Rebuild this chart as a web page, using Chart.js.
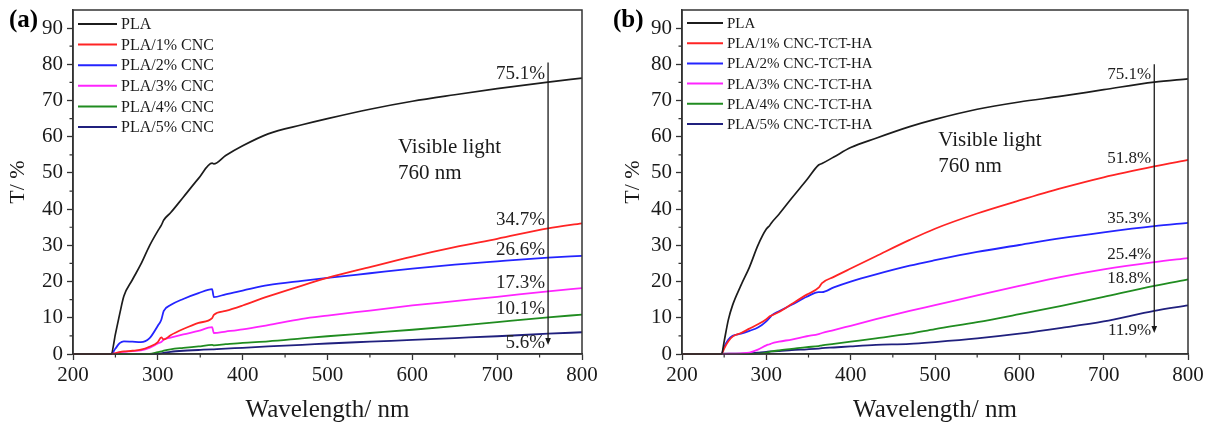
<!DOCTYPE html>
<html>
<head>
<meta charset="utf-8">
<script src="https://cdn.jsdelivr.net/npm/chart.js@4.4.1/dist/chart.umd.min.js"></script>
<style>
  html, body { margin: 0; padding: 0; background: #fff; }
  .panel { position: absolute; top: 0; width: 608px; height: 426px; }
  #panelA { left: 0; }
  #panelB { left: 608px; }
</style>
</head>
<body>
<div class="panel" id="panelA"><canvas id="chartA" width="608" height="426"></canvas></div>
<div class="panel" id="panelB"><canvas id="chartB" width="608" height="426"></canvas></div>
<script>
// transmittance spectra, (a) plain CNC and (b) CNC-TCT-HA fillers
const X_TICKS = [200, 300, 400, 500, 600, 700, 800];
const Y_TICKS = [0, 10, 20, 30, 40, 50, 60, 70, 80, 90];

const WL_A = [200, 245, 250, 255, 260, 270, 280, 290, 300, 304, 307, 315, 330, 348, 364, 366, 380, 400, 430, 470, 500, 550, 600, 650, 700, 760, 800];
const PLA_A  = [0, 0, 5.5, 11, 16, 20.5, 24.8, 29.8, 34, 35.5, 37, 39, 43.3, 48.5, 52.7, 52.5, 54.8, 57.5, 60.8, 63.3, 65, 67.6, 69.8, 71.6, 73.3, 75.1, 76.2];
const CNC1_A = [0, 0, 0.2, 0.5, 0.7, 0.9, 1.2, 2.0, 3.3, 4.6, 4.0, 5.2, 6.9, 8.6, 9.9, 10.8, 11.9, 13.4, 15.9, 18.9, 21.0, 24.0, 26.9, 29.5, 31.8, 34.7, 36.1];
const CNC2_A = [0, 0, 1.5, 3.0, 3.5, 3.4, 3.3, 4.3, 7.8, 9.4, 11.9, 13.5, 15.2, 16.8, 17.9, 15.7, 16.5, 17.5, 19.0, 20.2, 21.0, 22.3, 23.6, 24.7, 25.6, 26.6, 27.1];
const CNC3_A = [0, 0, 0.2, 0.5, 0.6, 0.8, 1.0, 1.7, 2.9, 3.3, 4.0, 4.5, 5.4, 6.4, 7.4, 5.8, 6.2, 6.8, 8.0, 9.7, 10.6, 12.0, 13.4, 14.6, 15.8, 17.3, 18.2];
const CNC4_A = [0, 0, 0, 0, 0, 0, 0, 0, 0.5, 0.7, 0.9, 1.3, 1.7, 2.1, 2.5, 2.4, 2.7, 3.1, 3.5, 4.3, 4.9, 5.8, 6.7, 7.7, 8.8, 10.1, 10.9];
const CNC5_A = [0, 0, 0, 0, 0, 0, 0, 0, 0.1, 0.2, 0.3, 0.6, 0.9, 1.1, 1.3, 1.3, 1.5, 1.7, 2.1, 2.5, 2.9, 3.4, 3.9, 4.4, 4.9, 5.6, 6.0];
const NAMES_A = ['PLA', 'PLA/1% CNC', 'PLA/2% CNC', 'PLA/3% CNC', 'PLA/4% CNC', 'PLA/5% CNC'];
const AT760_A = [75.1, 34.7, 26.6, 17.3, 10.1, 5.6];

const WL_B = [200, 247, 250, 255, 260, 270, 280, 290, 300, 304, 306, 315, 330, 348, 362, 366, 380, 400, 430, 470, 500, 550, 600, 650, 700, 760, 800];
const PLA_B = [0, 0, 3.5, 9.5, 13.5, 19, 24, 30, 34.5, 35.5, 36.2, 38.6, 43, 48.1, 52.2, 52.6, 54.4, 57, 59.6, 62.8, 64.8, 67.6, 69.6, 71.2, 73, 75.1, 76.0];
const HA1_B = [0, 0, 1.5, 3.5, 4.8, 5.8, 7.0, 8.2, 9.6, 10.4, 10.6, 11.6, 13.8, 16.4, 18.3, 19.6, 21.3, 23.6, 27.0, 31.5, 34.6, 38.8, 42.4, 45.8, 48.8, 51.8, 53.6];
const HA2_B = [0, 0, 2.0, 4.0, 5.0, 5.6, 6.4, 7.3, 9.0, 10.0, 10.6, 11.8, 13.6, 15.8, 17.1, 17.1, 18.4, 20.0, 22.0, 24.4, 25.9, 28.2, 30.1, 32.0, 33.6, 35.3, 36.2];
const HA3_B = [0, 0, 0, 0.1, 0.1, 0.2, 0.4, 1.2, 2.4, 2.7, 2.9, 3.4, 4.0, 4.9, 5.5, 5.8, 6.6, 7.8, 9.6, 11.9, 13.5, 16.2, 18.8, 21.3, 23.4, 25.4, 26.5];
const HA4_B = [0, 0, 0, 0, 0, 0, 0, 0.1, 0.4, 0.6, 0.7, 1.0, 1.4, 1.9, 2.2, 2.4, 2.8, 3.4, 4.3, 5.6, 6.9, 8.8, 11.0, 13.3, 15.8, 18.8, 20.6];
const HA5_B = [0, 0, 0.1, 0.1, 0.1, 0.1, 0.2, 0.4, 0.6, 0.7, 0.7, 0.8, 1.1, 1.3, 1.5, 1.6, 1.8, 2.1, 2.5, 2.8, 3.3, 4.3, 5.6, 7.2, 9.0, 11.9, 13.4];
const NAMES_B = ['PLA', 'PLA/1% CNC-TCT-HA', 'PLA/2% CNC-TCT-HA', 'PLA/3% CNC-TCT-HA', 'PLA/4% CNC-TCT-HA', 'PLA/5% CNC-TCT-HA'];
const AT760_B = [75.1, 51.8, 35.3, 25.4, 18.8, 11.9];

const COLORS = ['#1c1c1c', '#ff2424', '#2424ff', '#ff24ff', '#208c20', '#20207e'];
const SERIF = '"Liberation Serif", "Times New Roman", serif';
const INK = '#1a1a1a';
const AXIS = '#333';

// frame, minor ticks, legend, 760 nm arrow and its labels
const decor = {
  id: 'decor',
  afterDatasetsDraw(chart, args, o) {
    const { ctx, chartArea: a, scales: { x, y } } = chart;
    ctx.save();

    // box around the plot
    ctx.strokeStyle = AXIS;
    ctx.lineWidth = 1.5;
    ctx.strokeRect(a.left, a.top, a.right - a.left, a.bottom - a.top);

    // minor ticks
    ctx.lineWidth = 1.2;
    ctx.beginPath();
    for (let v = 250; v < 800; v += 100) {
      const px = x.getPixelForValue(v);
      ctx.moveTo(px, a.bottom); ctx.lineTo(px, a.bottom + 3.5);
    }
    for (let v = 5; v < 95; v += 10) {
      const py = y.getPixelForValue(v);
      ctx.moveTo(a.left, py); ctx.lineTo(a.left - 3.5, py);
    }
    ctx.stroke();

    // legend
    ctx.font = o.legendFont + 'px ' + SERIF;
    ctx.textAlign = 'left';
    ctx.textBaseline = 'middle';
    chart.data.datasets.forEach((ds, i) => {
      const ly = o.legendTop + i * o.legendStep;
      ctx.strokeStyle = ds.borderColor;
      ctx.lineWidth = 2;
      ctx.beginPath();
      ctx.moveTo(o.legendX, ly); ctx.lineTo(o.legendX + o.legendLine, ly);
      ctx.stroke();
      ctx.fillStyle = INK;
      ctx.fillText(ds.label, o.legendX + o.legendLine + 4, ly + 1);
    });

    // arrow at 760 nm
    const ax = x.getPixelForValue(760);
    const yTop = y.getPixelForValue(o.arrowFrom);
    const yTip = y.getPixelForValue(o.arrowTo);
    ctx.strokeStyle = INK;
    ctx.fillStyle = INK;
    ctx.lineWidth = 1.3;
    ctx.beginPath();
    ctx.moveTo(ax, yTop); ctx.lineTo(ax, yTip - 6);
    ctx.stroke();
    ctx.beginPath();
    ctx.moveTo(ax - 2.8, yTip - 7); ctx.lineTo(ax + 2.8, yTip - 7); ctx.lineTo(ax, yTip);
    ctx.closePath();
    ctx.fill();

    // values read at 760 nm
    ctx.font = o.markFont + 'px ' + SERIF;
    ctx.textAlign = 'right';
    ctx.fillStyle = '#222';
    o.values.forEach((v, i) => {
      const text = v.toFixed(1) + '%';
      if (i === o.values.length - 1) {
        ctx.textBaseline = 'middle';
        ctx.fillText(text, ax - 3, yTip - 2);
      } else {
        ctx.textBaseline = 'alphabetic';
        ctx.fillText(text, ax - 3, y.getPixelForValue(v) - 3);
      }
    });

    // visible light note
    ctx.font = '21px ' + SERIF;
    ctx.textAlign = 'left';
    ctx.textBaseline = 'middle';
    ctx.fillStyle = INK;
    const nx = x.getPixelForValue(o.noteAt[0]);
    const ny = y.getPixelForValue(o.noteAt[1]);
    ctx.fillText('Visible light', nx, ny);
    ctx.fillText('760 nm', nx, ny + 26);

    // panel letter
    ctx.font = 'bold 25px ' + SERIF;
    ctx.textBaseline = 'alphabetic';
    ctx.fillStyle = '#000';
    ctx.fillText(o.letter, o.letterX, 27);

    ctx.restore();
  }
};

function buildChart(id, s) {
  const datasets = s.series.map((ys, i) => ({
    label: s.names[i],
    data: s.wl.map((w, k) => ({ x: w, y: ys[k] })),
    borderColor: COLORS[i],
    borderWidth: i === 0 ? 1.7 : 1.8,
    pointRadius: 0,
    cubicInterpolationMode: 'monotone',
    clip: false
  }));

  return new Chart(document.getElementById(id), {
    type: 'line',
    data: { datasets },
    options: {
      responsive: false,
      animation: false,
      events: [],
      layout: { padding: { left: 0, top: 10, right: s.padRight, bottom: 0 } },
      scales: {
        x: {
          type: 'linear',
          min: 200,
          max: 800,
          afterBuildTicks: sc => { sc.ticks = X_TICKS.map(v => ({ value: v })); },
          afterFit: sc => { sc.height = 72; sc.paddingLeft = 0; sc.paddingRight = 0; },
          grid: { drawOnChartArea: false, tickLength: 6, tickColor: AXIS, tickWidth: 1.3 },
          border: { color: AXIS, width: 1.5 },
          ticks: { font: { family: SERIF, size: 21 }, color: INK, padding: 3, maxRotation: 0, autoSkip: false },
          title: { display: true, text: 'Wavelength/ nm', font: { family: SERIF, size: 25 }, color: INK, padding: { top: 0, bottom: 1 } }
        },
        y: {
          type: 'linear',
          min: 0,
          max: 95,
          afterBuildTicks: sc => { sc.ticks = Y_TICKS.map(v => ({ value: v })); },
          afterFit: sc => { sc.width = s.axisWidth; sc.paddingTop = 0; sc.paddingBottom = 0; },
          grid: { drawOnChartArea: false, tickLength: 6, tickColor: AXIS, tickWidth: 1.3 },
          border: { color: AXIS, width: 1.5 },
          ticks: { font: { family: SERIF, size: 21 }, color: INK, padding: 4 },
          title: { display: true, text: 'T/ %', font: { family: SERIF, size: 22 }, color: INK, padding: { top: s.yTitlePad, bottom: 0 } }
        }
      },
      plugins: {
        legend: { display: false },
        tooltip: { enabled: false },
        decor: s.decor
      }
    },
    plugins: [decor]
  });
}

buildChart('chartA', {
  wl: WL_A,
  series: [PLA_A, CNC1_A, CNC2_A, CNC3_A, CNC4_A, CNC5_A],
  names: NAMES_A,
  padRight: 26,
  axisWidth: 73,
  yTitlePad: 5,
  decor: {
    letter: '(a)', letterX: 9,
    legendFont: 16, legendTop: 24, legendStep: 20.6, legendX: 78, legendLine: 39,
    markFont: 19, values: AT760_A,
    arrowFrom: 80.5, arrowTo: 2.5,
    noteAt: [583, 57]
  }
});

buildChart('chartB', {
  wl: WL_B,
  series: [PLA_B, HA1_B, HA2_B, HA3_B, HA4_B, HA5_B],
  names: NAMES_B,
  padRight: 28,
  axisWidth: 74,
  yTitlePad: 12,
  decor: {
    letter: '(b)', letterX: 5,
    legendFont: 15, legendTop: 23, legendStep: 20.2, legendX: 79, legendLine: 36,
    markFont: 17, values: AT760_B,
    arrowFrom: 80, arrowTo: 5.8,
    noteAt: [504, 59]
  }
});
</script>
</body>
</html>
